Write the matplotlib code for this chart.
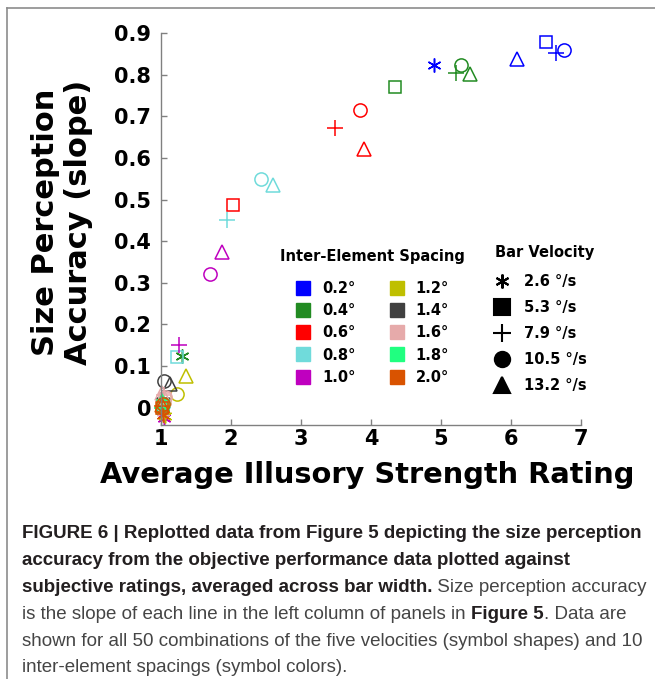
import matplotlib
matplotlib.use("Agg")
import matplotlib.pyplot as plt
from matplotlib.lines import Line2D

# Inter-element spacing (deg) and the colour used for each
spacings = ["0.2°", "0.4°", "0.6°", "0.8°", "1.0°", "1.2°", "1.4°", "1.6°", "1.8°", "2.0°"]
spacing_colors = ["#0000ff", "#228b22", "#ff0000", "#70dbdb", "#bf00bf",
                  "#bfbf00", "#404040", "#e6aaaa", "#20ff80", "#d95300"]

# Bar velocities and their symbols
velocities = ["2.6 °/s", "5.3 °/s", "7.9 °/s", "10.5 °/s", "13.2 °/s"]
velocity_markers = [(6, 2, 0), "s", "+", "o", "^"]

# Average illusory strength rating, one list per spacing (velocity order as above)
rating = {
    "0.2°": [4.90, 6.50, 6.64, 6.75, 6.09],
    "0.4°": [1.30, 4.34, 5.21, 5.28, 5.42],
    "0.6°": [1.03, 2.03, 3.49, 3.84, 3.90],
    "0.8°": [1.04, 1.23, 1.94, 2.43, 2.60],
    "1.0°": [1.04, 1.03, 1.25, 1.70, 1.87],
    "1.2°": [1.05, 1.03, 1.04, 1.23, 1.36],
    "1.4°": [1.02, 1.03, 1.03, 1.04, 1.13],
    "1.6°": [1.03, 1.05, 1.04, 1.06, 1.02],
    "1.8°": [1.02, 1.03, 1.01, 1.03, 1.02],
    "2.0°": [1.03, 1.02, 1.02, 1.03, 1.02],
}

# Size perception accuracy (slope), one list per spacing
accuracy = {
    "0.2°": [0.824, 0.879, 0.852, 0.860, 0.837],
    "0.4°": [0.123, 0.770, 0.804, 0.824, 0.802],
    "0.6°": [-0.005, 0.487, 0.672, 0.714, 0.621],
    "0.8°": [0.010, 0.121, 0.451, 0.549, 0.535],
    "1.0°": [-0.025, 0.000, 0.151, 0.321, 0.375],
    "1.2°": [-0.020, 0.005, 0.010, 0.033, 0.076],
    "1.4°": [0.000, 0.010, 0.020, 0.063, 0.057],
    "1.6°": [-0.010, 0.020, 0.030, 0.025, 0.035],
    "1.8°": [-0.005, 0.005, 0.000, 0.010, 0.015],
    "2.0°": [-0.018, 0.000, 0.005, 0.008, 0.006],
}

x_ticks = [1, 2, 3, 4, 5, 6, 7]
y_ticks = [0, 0.1, 0.2, 0.3, 0.4, 0.5, 0.6, 0.7, 0.8, 0.9]
y_tick_labels = ["0", "0.1", "0.2", "0.3", "0.4", "0.5", "0.6", "0.7", "0.8", "0.9"]

marker_sizes = {"s": 8, "+": 11, "o": 9.5, "^": 9.5}

W, H = 655, 679
fig = plt.figure(figsize=(W / 100, H / 100), dpi=100)
ax = fig.add_axes([161 / W, 1 - 425 / H, 420 / W, (425 - 33) / H])

for sp, col in zip(spacings, spacing_colors):
    for i, mk in enumerate(velocity_markers):
        ms = marker_sizes.get(mk, 10) if isinstance(mk, str) else 10
        ax.plot(rating[sp][i], accuracy[sp][i], linestyle="none", marker=mk,
                markersize=ms, markerfacecolor="none", markeredgecolor=col,
                markeredgewidth=1.1, clip_on=False)

ax.set_xlim(1, 7)
ax.set_ylim(-0.0416, 0.9)
ax.set_xticks(x_ticks)
ax.set_yticks(y_ticks)
ax.set_yticklabels(y_tick_labels)
for side in ("top", "right"):
    ax.spines[side].set_visible(False)
for side in ("left", "bottom"):
    ax.spines[side].set_color("#808080")
    ax.spines[side].set_linewidth(1.0)
ax.tick_params(direction="in", length=4, color="#808080", width=1.0,
               labelsize=15)
ax.tick_params(axis="y", pad=7)
ax.tick_params(axis="x", pad=3)
for lbl in ax.get_xticklabels() + ax.get_yticklabels():
    lbl.set_fontweight("bold")

fig.text(367 / W, 1 - 475 / H, "Average Illusory Strength Rating",
         ha="center", va="center", fontsize=20.8, fontweight="bold")
fig.text(62 / W, 1 - 222 / H, "Size Perception\nAccuracy (slope)",
         ha="center", va="center", rotation=90, fontsize=22,
         fontweight="bold", linespacing=1.15, multialignment="center")

# Colour key for spacing
spacing_handles = [Line2D([], [], linestyle="none", marker="s", markersize=10,
                          markerfacecolor=c, markeredgecolor=c) for c in spacing_colors]
leg1 = fig.legend(spacing_handles, spacings, ncol=2, frameon=False,
                  loc="upper left", bbox_to_anchor=(280 / W, 1 - 249 / H),
                  borderaxespad=0, borderpad=0, handlelength=1.0,
                  handletextpad=0.8, columnspacing=2.3, labelspacing=0.5,
                  title="Inter-Element Spacing",
                  prop={"weight": "bold", "size": 10.5},
                  title_fontproperties={"weight": "bold", "size": 10.5})
leg1._legend_box.sep = 12

# Symbol key for velocity
vel_sizes = [10, 11, 13, 11, 11]
velocity_handles = [Line2D([], [], linestyle="none", marker=m, markersize=s,
                           color="black", markeredgewidth=1.5)
                    for m, s in zip(velocity_markers, vel_sizes)]
leg2 = fig.legend(velocity_handles, velocities, frameon=False,
                  loc="upper left", bbox_to_anchor=(495 / W, 1 - 245 / H),
                  borderaxespad=0, borderpad=0, handlelength=1.0,
                  handletextpad=1.0, labelspacing=0.75,
                  title="Bar Velocity", alignment="left",
                  prop={"weight": "bold", "size": 10.5},
                  title_fontproperties={"weight": "bold", "size": 10.5})
leg2._legend_box.sep = 10

# Caption below the chart: bold lead-in, regular body
cap_font = "Liberation Sans"
cap_size = 13.5
dark = "#231f20"
grey = "#454545"
x0 = 22 / W
rows = [533, 560, 587, 614, 641, 667]

caption = [
    [("FIGURE 6 | Replotted data from Figure 5 depicting the size perception", True)],
    [("accuracy from the objective performance data plotted against", True)],
    [("subjective ratings, averaged across bar width.", True),
     (" Size perception accuracy", False)],
    [("is the slope of each line in the left column of panels in ", False),
     ("Figure 5", True), (". Data are", False)],
    [("shown for all 50 combinations of the five velocities (symbol shapes) and 10", False)],
    [("inter-element spacings (symbol colors).", False)],
]

for r, pieces in enumerate(caption):
    y = 1 - (rows[r] + 9) / H
    last = None
    for text, bold in pieces:
        kw = dict(fontsize=cap_size, family=cap_font,
                  fontweight="bold" if bold else "normal",
                  color=dark if bold else grey, va="bottom", ha="left")
        if last is None:
            last = fig.text(x0, y, text, **kw)
        else:
            last = fig.add_artist(matplotlib.text.Annotation(
                text, xy=(1, 0), xycoords=last, annotation_clip=False, **kw))

# Frame around the figure panel
fig.add_artist(Line2D([7 / W, 7 / W], [0, 1 - 8 / H], color="#8c8c8c", lw=1.2))
fig.add_artist(Line2D([7 / W, 1], [1 - 8 / H, 1 - 8 / H], color="#8c8c8c", lw=1.2))

fig.savefig("out.png", dpi=100)
